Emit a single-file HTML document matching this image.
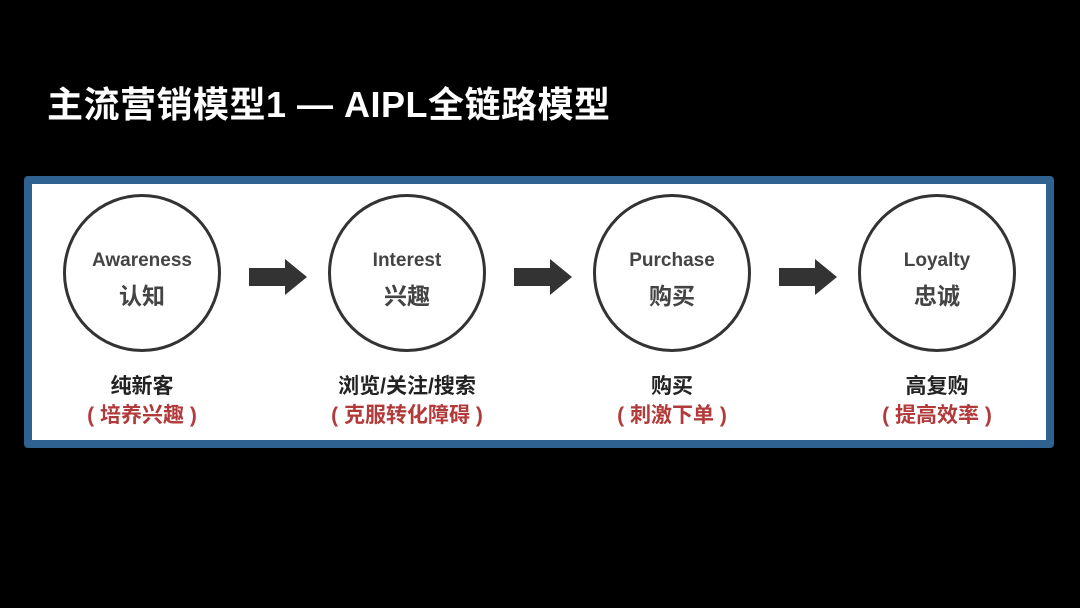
<!DOCTYPE html>
<html><head><meta charset="utf-8"><style>
body{margin:0;width:1080px;height:608px;background:#000;position:relative;overflow:hidden;font-family:"Liberation Sans","Noto Sans CJK SC",sans-serif}
.t{position:absolute;left:47px;top:76px;color:#fff;font-size:36px;font-weight:bold;white-space:nowrap;letter-spacing:0.5px}
.frame{position:absolute;left:24px;top:176px;width:1014px;height:256px;border:8px solid #2f6191;border-radius:4px;background:#fff}
.c{position:absolute;width:152px;height:152px;border:3px solid #333;border-radius:50%;top:194px}
.c .e{position:absolute;top:53px;width:100%;text-align:center;font-size:19px;font-weight:bold;color:#444}
.c .z{position:absolute;top:80px;width:100%;text-align:center;font-size:23px;font-weight:bold;color:#444}
.l{position:absolute;width:260px;text-align:center;font-weight:bold;font-size:21px}
.l .a{color:#222;position:absolute;top:0;width:100%}
.l .b{color:#b23a3a;position:absolute;top:29px;width:100%}
svg{position:absolute}
</style></head><body>
<div class="t">主流营销模型1 — AIPL全链路模型</div>
<div class="frame"></div>
<div class="c" style="left:63px"><div class="e">Awareness</div><div class="z">认知</div></div>
<div class="c" style="left:328px"><div class="e">Interest</div><div class="z">兴趣</div></div>
<div class="c" style="left:593px"><div class="e">Purchase</div><div class="z">购买</div></div>
<div class="c" style="left:858px"><div class="e">Loyalty</div><div class="z">忠诚</div></div>
<svg width="1080" height="608" style="left:0;top:0">
<g fill="#333">
<polygon points="249,268 285,268 285,259 307,277 285,295 285,286 249,286"/>
<polygon points="514,268 550,268 550,259 572,277 550,295 550,286 514,286"/>
<polygon points="779,268 815,268 815,259 837,277 815,295 815,286 779,286"/>
</g></svg>
<div class="l" style="left:12px;top:370px"><div class="a">纯新客</div><div class="b">( 培养兴趣 )</div></div>
<div class="l" style="left:277px;top:370px"><div class="a">浏览/关注/搜索</div><div class="b">( 克服转化障碍 )</div></div>
<div class="l" style="left:542px;top:370px"><div class="a">购买</div><div class="b">( 刺激下单 )</div></div>
<div class="l" style="left:807px;top:370px"><div class="a">高复购</div><div class="b">( 提高效率 )</div></div>
</body></html>
